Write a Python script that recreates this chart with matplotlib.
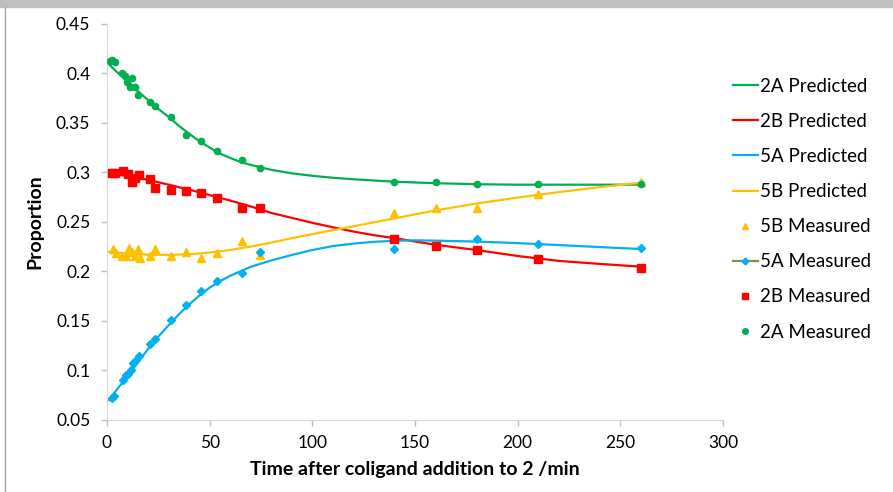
import matplotlib
matplotlib.use("Agg")
import matplotlib.pyplot as plt
from matplotlib.lines import Line2D
from matplotlib.patches import Rectangle
from matplotlib.ticker import FuncFormatter

plt.rcParams['font.family'] = ['Lato', 'DejaVu Sans']

# predicted curves
t_2a_pred = [0, 5, 10, 15, 20, 25, 30, 35, 40, 45, 50, 55, 60, 65, 70, 80, 90, 100, 110, 120, 140, 160, 180, 200, 230, 260]
v_2a_pred = [0.411, 0.401, 0.392, 0.382, 0.373, 0.364, 0.356, 0.347, 0.339, 0.3315, 0.325, 0.319, 0.3145, 0.3105, 0.3075, 0.3025, 0.299, 0.2965, 0.2945, 0.293, 0.2905, 0.289, 0.288, 0.2875, 0.2875, 0.2875]

t_2b_pred = [0, 10, 20, 30, 40, 50, 60, 70, 80, 90, 100, 110, 120, 130, 140, 160, 180, 200, 220, 240, 260]
v_2b_pred = [0.299, 0.2965, 0.2925, 0.2875, 0.2825, 0.277, 0.2715, 0.2655, 0.259, 0.254, 0.249, 0.2445, 0.2402, 0.2365, 0.2335, 0.2268, 0.2215, 0.2155, 0.2105, 0.2075, 0.2047]

t_5a_pred = [1, 5, 10, 15, 20, 25, 30, 35, 40, 45, 50, 55, 60, 65, 70, 80, 90, 100, 110, 120, 130, 140, 150, 160, 180, 200, 220, 240, 260]
v_5a_pred = [0.070, 0.081, 0.094, 0.108, 0.1215, 0.134, 0.1455, 0.1565, 0.1665, 0.1755, 0.1835, 0.190, 0.1955, 0.200, 0.2045, 0.211, 0.2165, 0.2215, 0.2255, 0.228, 0.2298, 0.2308, 0.2313, 0.231, 0.2300, 0.2285, 0.2265, 0.2245, 0.2225]

t_5b_pred = [0, 10, 20, 30, 40, 50, 60, 70, 80, 90, 100, 110, 120, 130, 140, 160, 180, 200, 220, 240, 260]
v_5b_pred = [0.220, 0.218, 0.2168, 0.2165, 0.2172, 0.219, 0.2215, 0.225, 0.229, 0.2335, 0.2375, 0.2415, 0.2455, 0.2495, 0.2535, 0.2615, 0.2685, 0.2745, 0.280, 0.285, 0.2895]

# measured points
t_2a_meas = [1.5, 2.5, 3.9, 7.1, 8.8, 9.9, 11.2, 12.0, 13.6, 15.3, 20.9, 23.4, 31.0, 38.3, 45.8, 53.4, 65.6, 74.5, 140, 160, 180, 210, 260]
v_2a_meas = [0.412, 0.413, 0.411, 0.400, 0.397, 0.391, 0.386, 0.395, 0.386, 0.378, 0.371, 0.367, 0.356, 0.338, 0.332, 0.3215, 0.312, 0.304, 0.2905, 0.2905, 0.288, 0.288, 0.288]

t_2b_meas = [2.3, 3.9, 8.0, 10.4, 12.3, 13.6, 15.7, 20.9, 23.4, 31.0, 38.3, 45.8, 53.4, 65.6, 74.5, 140, 160, 180, 210, 260]
v_2b_meas = [0.299, 0.299, 0.3015, 0.298, 0.290, 0.294, 0.297, 0.293, 0.2845, 0.282, 0.2815, 0.279, 0.274, 0.2635, 0.2635, 0.2325, 0.2255, 0.2215, 0.212, 0.203]

t_5a_meas = [2.3, 3.6, 8.0, 9.3, 10.4, 11.7, 12.8, 14.0, 15.7, 20.9, 23.4, 31.0, 38.3, 45.8, 53.4, 65.6, 74.5, 140, 180, 210, 260]
v_5a_meas = [0.0725, 0.074, 0.090, 0.095, 0.096, 0.100, 0.107, 0.110, 0.114, 0.1265, 0.1316, 0.1508, 0.166, 0.1804, 0.1905, 0.1985, 0.2195, 0.2225, 0.2326, 0.2276, 0.2232]

t_5b_meas = [3.1, 4.2, 7.1, 9.1, 10.7, 12.0, 13.6, 14.9, 16.1, 20.9, 23.4, 31.0, 38.3, 45.8, 53.4, 65.6, 74.5, 140, 160, 180, 210, 260]
v_5b_meas = [0.2224, 0.219, 0.2157, 0.2157, 0.224, 0.2194, 0.2157, 0.2224, 0.2134, 0.2157, 0.2224, 0.2157, 0.220, 0.2134, 0.2184, 0.2311, 0.2168, 0.2593, 0.2636, 0.2636, 0.2777, 0.2905]

GREEN = '#00B050'
RED = '#FF0000'
BLUE = '#00B0F0'
GOLD = '#FFC000'

fig = plt.figure(figsize=(8.93, 4.92), dpi=100)
ax = fig.add_axes([0.1198, 0.1467, 0.6898, 0.8049])

ax.plot(t_2a_pred, v_2a_pred, color=GREEN, lw=1.6, zorder=2)
ax.plot(t_2b_pred, v_2b_pred, color=RED, lw=1.6, zorder=2)
ax.plot(t_5a_pred, v_5a_pred, color=BLUE, lw=1.6, zorder=2)
ax.plot(t_5b_pred, v_5b_pred, color=GOLD, lw=1.6, zorder=2)
ax.plot(t_5b_meas, v_5b_meas, ls='none', marker='^', ms=6, color=GOLD, zorder=3)
ax.plot(t_5a_meas, v_5a_meas, ls='none', marker='D', ms=4.5, color=BLUE, zorder=4)
ax.plot(t_2b_meas, v_2b_meas, ls='none', marker='s', ms=6, color=RED, zorder=5)
ax.plot(t_2a_meas, v_2a_meas, ls='none', marker='o', ms=4.5, color=GREEN, zorder=6)

ax.set_xlim(0, 300)
ax.set_ylim(0.05, 0.45)
ax.set_xticks(range(0, 301, 50))
ax.set_yticks([0.05, 0.1, 0.15, 0.2, 0.25, 0.3, 0.35, 0.4, 0.45])
ax.yaxis.set_major_formatter(FuncFormatter(lambda v, p: '%g' % round(v, 2)))
for s in ['top', 'right']:
    ax.spines[s].set_visible(False)
for s in ['left', 'bottom']:
    ax.spines[s].set_color('#D9D9D9')
ax.tick_params(colors='#BFBFBF', labelcolor='#000000', labelsize=12.5, length=4, width=1)
ax.tick_params(axis='x', pad=7)
ax.tick_params(axis='y', pad=8)

ax.set_xlabel('Time after coligand addition to 2 /min', fontsize=14, fontweight='bold', labelpad=7)
ax.set_ylabel('Proportion', fontsize=14, fontweight='bold', labelpad=9)

handles = [
    Line2D([], [], color=GREEN, lw=1.6),
    Line2D([], [], color=RED, lw=1.6),
    Line2D([], [], color=BLUE, lw=1.6),
    Line2D([], [], color=GOLD, lw=1.6),
    Line2D([], [], ls='none', marker='^', ms=5, color=GOLD),
    Line2D([], [], color='#6E9A43', lw=1.6, marker='D', ms=3.5, mfc=BLUE, mec=BLUE),
    Line2D([], [], ls='none', marker='s', ms=5, color=RED),
    Line2D([], [], ls='none', marker='o', ms=4, color=GREEN),
]
labels = ['2A Predicted', '2B Predicted', '5A Predicted', '5B Predicted',
          '5B Measured', '5A Measured', '2B Measured', '2A Measured']
fig.legend(handles, labels, loc='upper left', bbox_to_anchor=(0.812, 0.857),
           frameon=False, fontsize=13.5, handlelength=1.35, handletextpad=0.12,
           labelspacing=0.965, borderaxespad=0)

# screenshot frame: grey strip on top and thin left border
fig.patches.append(Rectangle((0, 1 - 7 / 492), 1, 7 / 492, transform=fig.transFigure,
                             color='#BFBFBF', zorder=0))
fig.lines.append(Line2D([5 / 893, 5 / 893], [0, 1 - 7 / 492], transform=fig.transFigure,
                        color='#A6A6A6', lw=1))

fig.savefig('out.png', dpi=100)
